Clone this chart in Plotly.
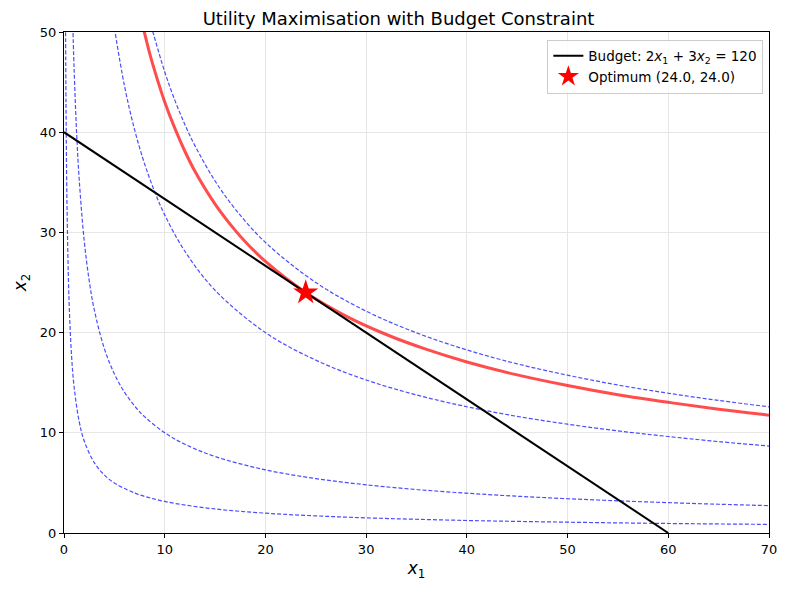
import plotly.graph_objects as go

# Indifference curves (x1, x2), utility levels 5, 10, 20, 25
u5_x = [0.15, 0.2, 0.3, 0.5, 0.75, 1, 1.5, 2, 3, 4, 5, 7, 10, 15, 20, 25, 30, 40, 50, 60, 70]
u5_y = [51.8, 42.75, 32.6, 23.2, 17.71, 14.62, 11.16, 9.21, 7.03, 5.80, 5.00, 4.00, 3.15, 2.40, 1.98, 1.71, 1.51, 1.25, 1.08, 0.95, 0.86]

u10_x = [0.85, 1, 1.25, 1.5, 2, 2.5, 3, 4, 5, 6, 7, 8, 10, 12, 15, 20, 25, 30, 35, 40, 45, 50, 55, 60, 65, 70]
u10_y = [51.7, 46.42, 40.0, 35.42, 29.24, 25.2, 22.31, 18.42, 15.88, 14.06, 12.69, 11.61, 10.0, 8.86, 7.63, 6.30, 5.43, 4.81, 4.34, 3.97, 3.67, 3.42, 3.21, 3.03, 2.87, 2.73]

u20_x = [5, 6, 7, 8, 9, 10, 12, 15, 20, 25, 30, 35, 40, 45, 50, 55, 60, 65, 70]
u20_y = [50.4, 44.65, 40.28, 36.85, 34.07, 31.75, 28.12, 24.23, 20.0, 17.25, 15.27, 13.78, 12.60, 11.64, 10.86, 10.19, 9.63, 9.12, 8.68]

u25_x = [8.8, 10, 11, 12, 13, 15, 17, 20, 25, 30, 35, 40, 45, 50, 55, 60, 65, 70]
u25_y = [50.1, 46.03, 43.2, 40.77, 38.66, 35.13, 32.33, 29.0, 25.0, 22.14, 19.98, 18.27, 16.88, 15.75, 14.77, 13.95, 13.23, 12.59]

# Optimal indifference curve (U = 24)
opt_curve_x = [7.9, 8.5, 9, 10, 11, 12, 13, 15, 17, 18, 20, 24, 28, 32, 36, 40, 45, 50, 55, 60, 65, 70]
opt_curve_y = [50.3, 47.9, 46.15, 43.02, 40.4, 38.10, 36.1, 32.83, 30.2, 29.07, 27.10, 24.0, 21.65, 19.81, 18.32, 17.07, 15.78, 14.72, 13.80, 13.04, 12.36, 11.76]

# Budget line 2x1 + 3x2 = 120
budget_x = [0, 60]
budget_y = [40, 0]

opt_x = [24.0]
opt_y = [24.0]

fig = go.Figure()

for xs, ys in [(u5_x, u5_y), (u10_x, u10_y), (u20_x, u20_y), (u25_x, u25_y)]:
    fig.add_trace(go.Scatter(
        x=xs, y=ys, mode='lines', showlegend=False, hoverinfo='skip',
        line=dict(color='rgba(0,0,255,0.7)', width=1.2, dash='4px,2px', shape='spline')
    ))

fig.add_trace(go.Scatter(
    x=opt_curve_x, y=opt_curve_y, mode='lines', showlegend=False,
    line=dict(color='rgba(255,0,0,0.7)', width=3, shape='spline')
))

fig.add_trace(go.Scatter(
    x=budget_x, y=budget_y, mode='lines',
    name='Budget: 2<i>x</i><sub>1</sub> + 3<i>x</i><sub>2</sub> = 120',
    line=dict(color='black', width=2)
))

fig.add_trace(go.Scatter(
    x=opt_x, y=opt_y, mode='markers',
    name=f'Optimum ({opt_x[0]:.1f}, {opt_y[0]:.1f})',
    marker=dict(symbol='star', color='red', size=19, line=dict(width=0))
))

axis_style = dict(
    showline=True, mirror=True, linecolor='black', linewidth=1,
    ticks='outside', ticklen=4, tickcolor='black',
    showgrid=True, gridcolor='#e6e6e6', zeroline=False,
    tickfont=dict(size=13, color='black'), dtick=10
)

# page body has an 8px margin, so the figure is a bit smaller than the window
fig.update_layout(
    width=781, height=582,
    margin=dict(l=53, r=19, t=24, b=57),
    paper_bgcolor='white', plot_bgcolor='white',
    font=dict(family='DejaVu Sans', color='black'),
    title=dict(text='Utility Maximisation with Budget Constraint', x=0.5, xanchor='center',
               y=0.982, yanchor='middle', font=dict(size=18)),
    xaxis=dict(range=[0, 70], title=dict(text='<i>x</i><sub>1</sub>', font=dict(size=17), standoff=6), **axis_style),
    yaxis=dict(range=[0, 50], title=dict(text='<i>x</i><sub>2</sub>', font=dict(size=17), standoff=8), **axis_style),
    legend=dict(x=0.992, y=0.985, xanchor='right', yanchor='top',
                bgcolor='rgba(255,255,255,0.8)', bordercolor='#cccccc', borderwidth=1,
                font=dict(size=13.5), tracegroupgap=4)
)

fig.write_html("out.html")
